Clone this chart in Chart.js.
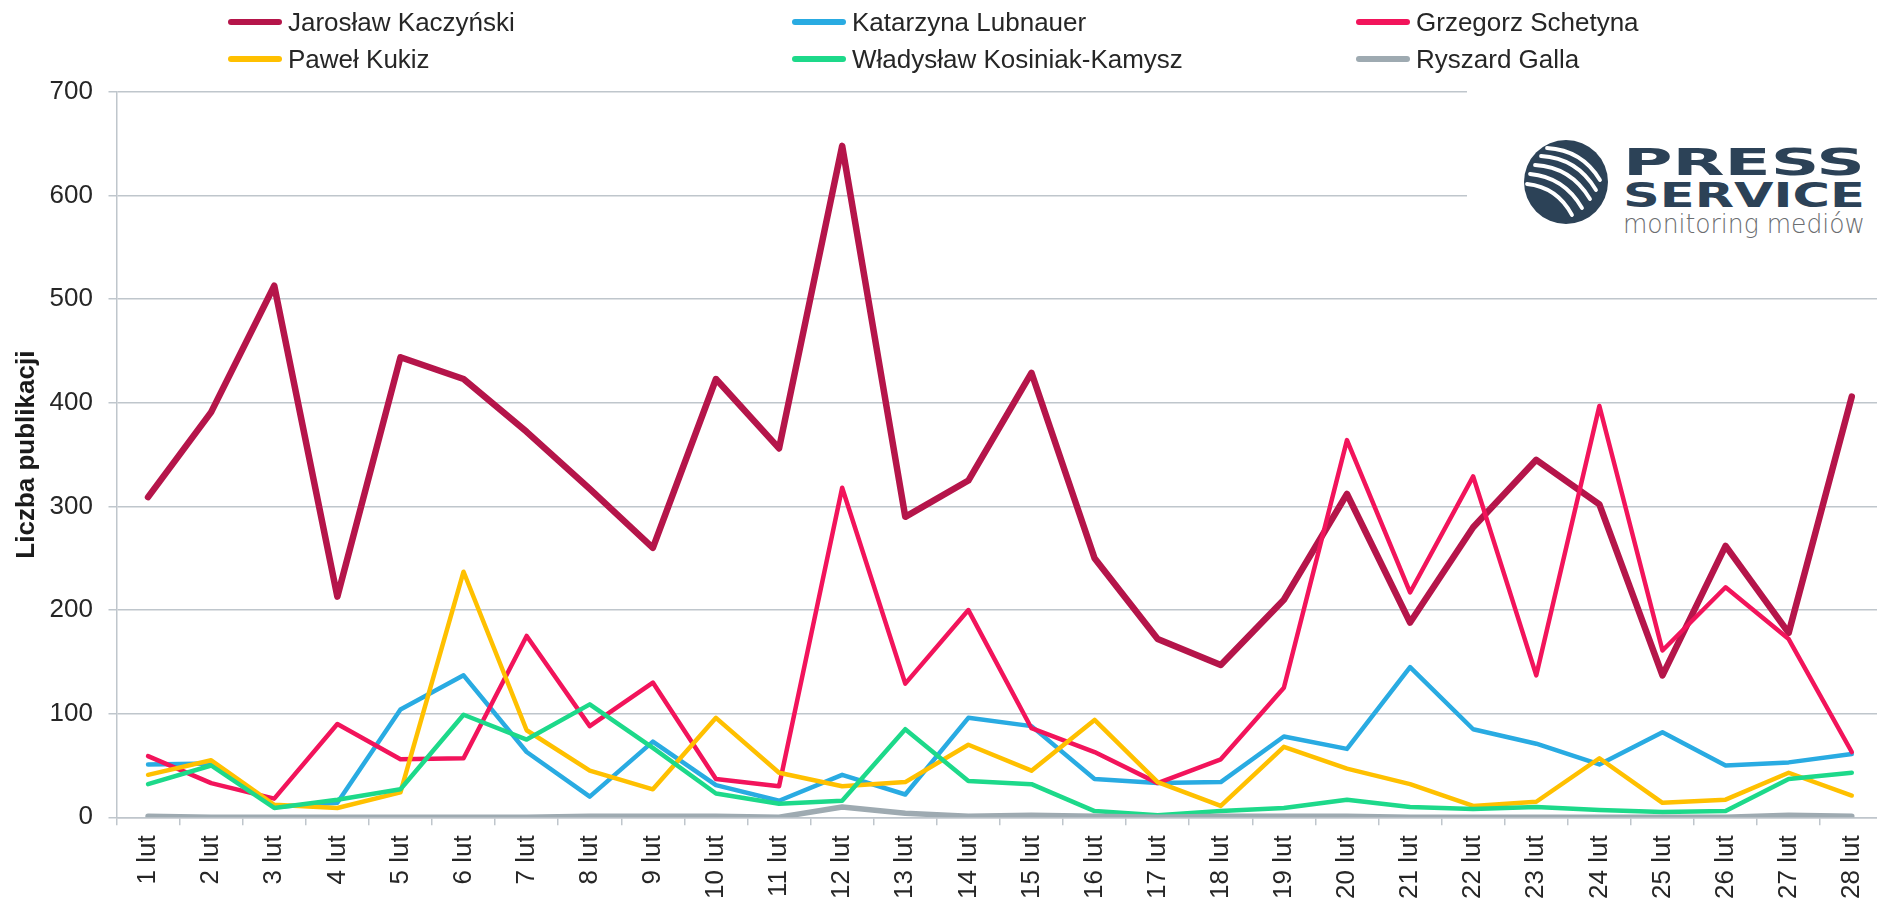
<!DOCTYPE html>
<html lang="pl">
<head>
<meta charset="utf-8">
<title>Liczba publikacji – luty</title>
<script src="https://cdn.jsdelivr.net/npm/chart.js@4.4.1/dist/chart.umd.min.js"></script>
<style>
  html, body { margin: 0; padding: 0; width: 1877px; height: 900px; overflow: hidden; background: #fff; }
  #wrap { position: absolute; left: 0; top: 0; width: 1893px; height: 900px; }
  #legend {
    position: absolute; left: 228px; top: 3.5px;
    display: grid; grid-template-columns: repeat(3, 564px);
    font: 26px 'Liberation Sans', Arial, sans-serif; color: #262626;
  }
  #legend .item { height: 37px; display: flex; align-items: center; white-space: nowrap; }
  #legend .swatch { width: 54px; height: 6px; border-radius: 3px; margin-right: 6px; }
  #logo { position: absolute; left: 1467px; top: 85px; width: 410px; height: 175px; background: #fff; }
</style>
</head>
<body>
<div id="wrap"><canvas id="chart"></canvas></div>
<div id="legend"></div>
<div id="logo">
  <svg width="410" height="175" viewBox="0 0 410 175" xmlns="http://www.w3.org/2000/svg">
    <defs><clipPath id="disc"><circle cx="99" cy="97" r="42"/></clipPath></defs>
    <circle cx="99" cy="97" r="42" fill="#2c4257"/>
    <g clip-path="url(#disc)" fill="none" stroke="#fff" stroke-width="3.8" stroke-linecap="round">
      <path d="M80 63 Q115 65 133 95"/>
      <path d="M74 71 Q110 73 129 105"/>
      <path d="M68 80 Q104 82 123 114"/>
      <path d="M63 89 Q97 92 115 123"/>
      <path d="M60 99 Q90 102 105 130"/>
    </g>
    <text x="156" y="90" font-family="DejaVu Sans" font-weight="bold" font-size="38" fill="#2c4257"
          textLength="242" lengthAdjust="spacingAndGlyphs">PRESS</text>
    <text x="156" y="122" font-family="DejaVu Sans" font-weight="bold" font-size="33" fill="#2c4257"
          textLength="242" lengthAdjust="spacingAndGlyphs">SERVICE</text>
    <text x="156" y="148" font-family="DejaVu Sans" font-weight="300" font-size="27" fill="#6b6d70"
          textLength="242" lengthAdjust="spacingAndGlyphs">monitoring mediów</text>
  </svg>
</div>
<script>
const DAYS = ['1 lut', '2 lut', '3 lut', '4 lut', '5 lut', '6 lut', '7 lut', '8 lut', '9 lut', '10 lut',
  '11 lut', '12 lut', '13 lut', '14 lut', '15 lut', '16 lut', '17 lut', '18 lut', '19 lut', '20 lut',
  '21 lut', '22 lut', '23 lut', '24 lut', '25 lut', '26 lut', '27 lut', '28 lut'];

const KACZYNSKI = [309, 391, 513, 213, 444, 423, 372, 317, 260, 423, 356, 648, 290, 325, 429, 250, 172, 147, 210, 312, 188, 280, 345, 302, 137, 262, 178, 406];
const LUBNAUER  = [51, 52, 10, 14, 104, 137, 63, 20, 73, 31, 16, 41, 22, 96, 88, 37, 33, 34, 78, 66, 145, 85, 71, 51, 82, 50, 53, 61];
const SCHETYNA  = [59, 33, 18, 90, 56, 57, 175, 88, 130, 37, 30, 318, 129, 200, 86, 63, 33, 56, 125, 364, 217, 329, 137, 397, 161, 222, 172, 63];
const KUKIZ     = [41, 55, 12, 9, 24, 237, 84, 45, 27, 96, 43, 30, 34, 70, 45, 94, 34, 11, 68, 47, 32, 11, 15, 57, 14, 17, 43, 21];
const KOSINIAK  = [32, 50, 9, 17, 27, 99, 75, 109, 67, 23, 13, 16, 85, 35, 32, 6, 2, 6, 9, 17, 10, 8, 10, 7, 5, 6, 37, 43];
const GALLA     = [1, 0, 0, 0, 0, 0, 0, 1, 1, 1, 0, 10, 4, 1, 2, 1, 0, 1, 1, 1, 0, 0, 0, 0, 0, 0, 2, 1];

const SERIES = [
  ['Jarosław Kaczyński', KACZYNSKI, '#b5154a', 6.5],
  ['Katarzyna Lubnauer', LUBNAUER, '#29abe2', 4.5],
  ['Grzegorz Schetyna', SCHETYNA, '#f2145b', 4.5],
  ['Paweł Kukiz', KUKIZ, '#ffc000', 4.5],
  ['Władysław Kosiniak-Kamysz', KOSINIAK, '#1dd98a', 4.5],
  ['Ryszard Galla', GALLA, '#9eaab1', 5.5],
];

const GRID = '#bfc6cc';
const TEXT = '#262626';
Chart.defaults.font.family = "'Liberation Sans', Arial, sans-serif";

// excel draws later series on top, so lower order for later ones
const datasets = SERIES.map(([label, data, colour, width], i) => ({
  label,
  data,
  borderColor: colour,
  backgroundColor: colour,
  borderWidth: width,
  borderCapStyle: 'round',
  borderJoinStyle: 'round',
  pointRadius: 0,
  tension: 0,
  order: -i,
}));

const chart = new Chart(document.getElementById('chart'), {
  type: 'line',
  data: { labels: DAYS, datasets },
  options: {
    responsive: true,
    maintainAspectRatio: false,
    animation: false,
    layout: { padding: { top: 92, right: 1, bottom: 0, left: 0 } },
    plugins: { legend: { display: false }, tooltip: { enabled: false } },
    scales: {
      x: {
        offset: true,
        grid: { offset: true, drawOnChartArea: false, color: GRID, lineWidth: 1.5, tickLength: 8 },
        border: { color: GRID, width: 1.5 },
        ticks: { color: TEXT, font: { size: 26 }, minRotation: 90, maxRotation: 90, autoSkip: false, padding: 10 },
        afterFit: (s) => { s.height = 82.7; },
      },
      y: {
        min: 0,
        max: 700,
        grid: { color: GRID, lineWidth: 1.5, tickLength: 8 },
        border: { color: GRID, width: 1.5 },
        ticks: { stepSize: 100, color: TEXT, font: { size: 26 }, padding: 15.5 },
        title: {
          display: true,
          text: 'Liczba publikacji',
          color: '#1a1a1a',
          font: { size: 26, weight: 'bold', lineHeight: 1.2 },
          padding: { top: 11.4, bottom: 0 },
        },
        afterFit: (s) => { s.width = 116.5; },
      },
    },
  },
});

const legend = document.getElementById('legend');
for (const ds of chart.data.datasets) {
  const item = document.createElement('div');
  item.className = 'item';
  const sw = document.createElement('span');
  sw.className = 'swatch';
  sw.style.background = ds.borderColor;
  const txt = document.createElement('span');
  txt.textContent = ds.label;
  item.append(sw, txt);
  legend.append(item);
}
</script>
</body>
</html>
